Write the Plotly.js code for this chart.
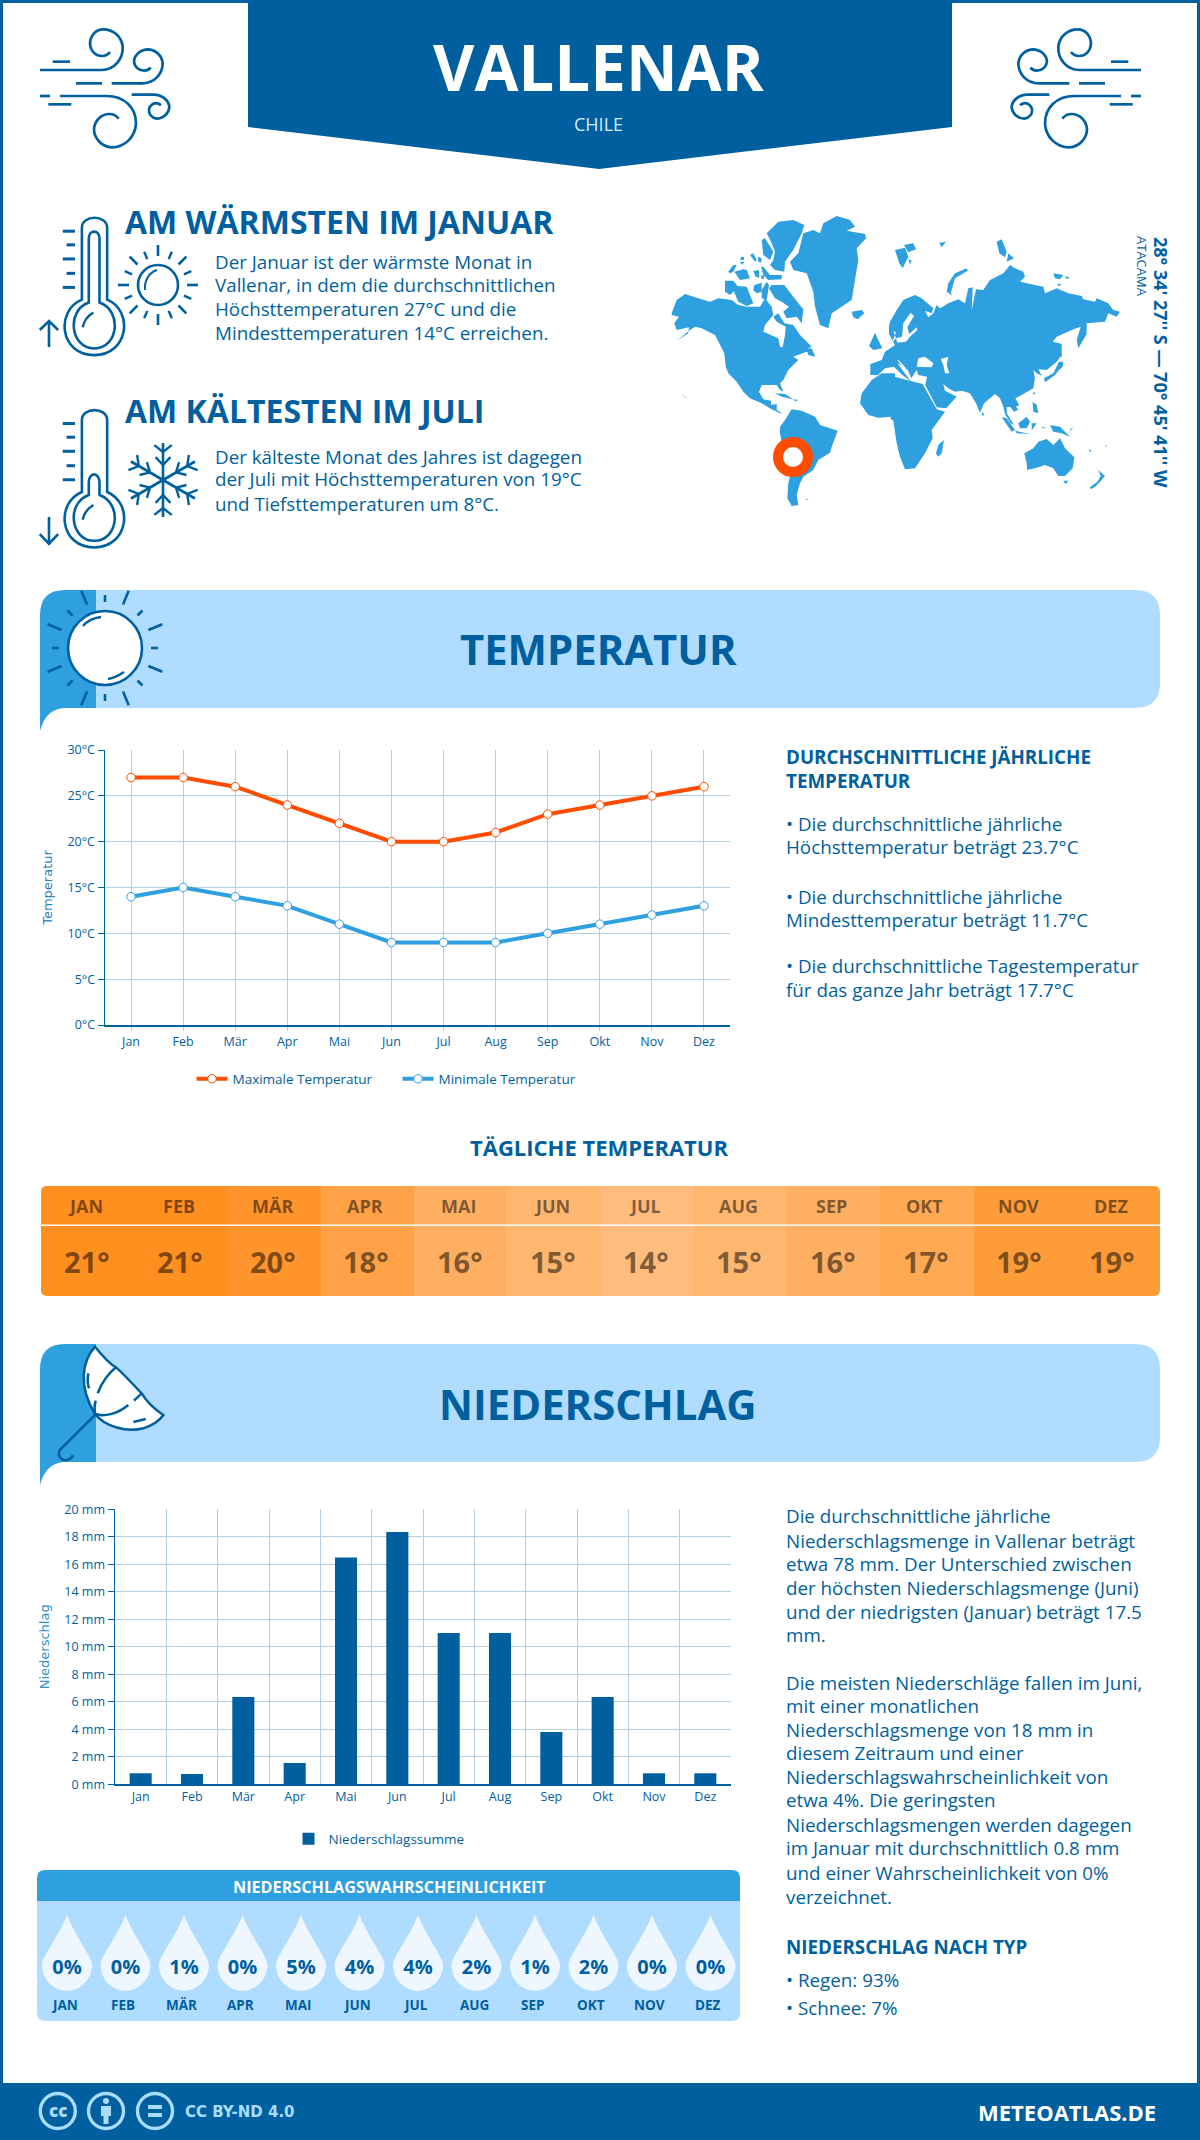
<!DOCTYPE html>
<html><head><meta charset="utf-8">
<script src="https://cdn.plot.ly/plotly-3.0.1.min.js"></script>
<style>html,body{margin:0;padding:0;background:#fff}#c{width:1200px;height:2140px}</style></head>
<body><div id="c"></div>
<script>
// ---------- data ----------
const months = ["Jan","Feb","Mär","Apr","Mai","Jun","Jul","Aug","Sep","Okt","Nov","Dez"];
const tempMax = [27,27,26,24,22,20,20,21,23,24,25,26];
const tempMin = [14,15,14,13,11,9,9,9,10,11,12,13];
const dailyTemp = [21,21,20,18,16,15,14,15,16,17,19,19];
const precip = [0.8,0.75,6.35,1.55,16.5,18.35,11,11,3.8,6.35,0.8,0.8];
const precipProb = [0,0,1,0,5,4,4,2,1,2,0,0];
const monthsUpper = months.map(m=>m.toUpperCase());

// ---------- palette ----------
const DARK="#005f9e", MID="#2e9fdf", LIGHT="#b0dcff", RED="#ff4d00", GRID="#b5cfe2", PALE="#a9dcff";
const FONT="Open Sans";
const W=1200,H=2140;
const fx=x=>x/W, fy=y=>1-y/H;

// ---------- drawing helpers (decoration only) ----------
const shapes=[], ann=[];
function mapPts(d,fn){ return d.replace(/(-?\d+(?:\.\d+)?)[ ,]+(-?\d+(?:\.\d+)?)/g,(m,a,b)=>{const r=fn(+a,+b);return r[0].toFixed(2)+" "+r[1].toFixed(2);}); }
function mapPaper(d){ return d.replace(/(-?\d+(?:\.\d+)?)[ ,]+(-?\d+(?:\.\d+)?)/g,(m,a,b)=>fx(+a).toFixed(6)+" "+fy(+b).toFixed(6)); }
const D=(d,o={})=>shapes.push({type:"path",xref:"paper",yref:"paper",layer:o.layer||"below",path:mapPaper(d),
    fillcolor:o.fill||"rgba(0,0,0,0)",line:{color:o.stroke||"rgba(0,0,0,0)",width:o.w===undefined?0:o.w}});
function C(cx,cy,r,o={}){
  shapes.push({type:"circle",xref:"paper",yref:"paper",layer:"below",x0:fx(cx-r),x1:fx(cx+r),y0:fy(cy-r),y1:fy(cy+r),
    fillcolor:o.fill||"rgba(0,0,0,0)",line:{color:o.stroke||"rgba(0,0,0,0)",width:o.w||0}});
}
function T(text,x,y,size,color,weight=400,anchor="left",extra={}){
  ann.push(Object.assign({text,x:fx(x),y:fy(y),xref:"paper",yref:"paper",xanchor:anchor,yanchor:"middle",showarrow:false,
    borderpad:0,font:{family:FONT,size,color,weight}},extra));
}
const z1x=1568/1200,z1y=1568/580;
const Z1=(d,o)=>D(mapPts(d,(x,y)=>[x/z1x,y/z1y]),o);

// page frame + header
D("M0 0 L1200 0 L1200 3 L0 3 Z",{fill:DARK});
D("M0 0 L3 0 L3 2140 L0 2140 Z",{fill:DARK});
D("M1197 0 L1200 0 L1200 2140 L1197 2140 Z",{fill:DARK});
D("M248 0 L952 0 L952 127 L599 169 L248 127 Z",{fill:DARK});
T("VALLENAR",599,66,63.7,"#ffffff",700,"center");
T("CHILE",598,124,18,"#d4ecff",400,"center");

// wind icons
const wind=["M30 150 L215 150 C255 150 280 115 278 80 C275 50 250 28 220 28 C195 28 180 50 180 72 C182 95 198 108 215 108 C225 108 235 103 240 96",
 "M245 190 L335 190 C375 190 398 160 398 130 C396 105 375 88 352 88 C328 90 312 108 312 125 C314 142 328 152 342 152 C350 152 358 148 362 143",
 "M68 125 L120 125","M138 190 L216 190","M30 228 L60 228",
 "M90 228 L230 228 C285 228 318 265 318 310 C316 350 285 382 245 382 C215 380 192 355 192 328 C194 300 215 282 238 282 C250 282 260 288 266 296",
 "M55 253 L124 253",
 "M305 224 L370 224 C400 224 418 245 418 262 C416 282 398 296 380 296 C365 294 355 282 357 268 C360 255 372 248 382 250 C387 251 391 254 393 256"];
wind.forEach(d=>D(mapPts(d,(x,y)=>[30+x/3,20+y/3]),{stroke:DARK,w:2.7}));
wind.forEach(d=>D(mapPts(d,(x,y)=>[1181-(30+x/3),20+y/3]),{stroke:DARK,w:2.7}));

// thermometers
function thermo(dy,warm){
  const t=(d)=>d.replace(/(-?\d+) (-?\d+)/g,(m,a,b)=>a+" "+(+b+dy));
  Z1(t("M107 810 L107 615 C107 580 140 580 140 615 L140 810 C175 840 168 960 123 960 C78 960 72 840 107 810 Z"),{stroke:DARK,w:2.6});
  if(warm) Z1(t("M116 818 L116 645 C116 620 130 620 130 645 L130 818 C160 840 155 942 123 942 C92 942 86 840 116 818 Z"),{stroke:DARK,w:2.6});
  else Z1(t("M116 818 L116 785 C116 755 130 755 130 785 L130 818 C160 840 155 942 123 942 C92 942 86 840 116 818 Z"),{stroke:DARK,w:2.6});
  Z1(t("M108 885 C110 865 114 855 122 845"),{stroke:DARK,w:2.4});
  [[82,625],[87,662],[82,700],[87,739],[82,777]].forEach(p=>Z1(t(`M${p[0]} ${p[1]} L98 ${p[1]}`),{stroke:DARK,w:3}));
}
thermo(0,true); thermo(520,false);
Z1("M64 938 L64 868 M52 892 L64 868 L76 892",{stroke:DARK,w:2.6});
Z1("M64 1398 L64 1470 M52 1444 L64 1470 L76 1444",{stroke:DARK,w:2.6});

// rays helper
function rays(cx,cy,list){ list.forEach(([a,r0,r1,w])=>{const c=Math.cos(a*Math.PI/180),s=Math.sin(a*Math.PI/180);
  D(`M${(cx+c*r0).toFixed(1)} ${(cy+s*r0).toFixed(1)} L${(cx+c*r1).toFixed(1)} ${(cy+s*r1).toFixed(1)}`,{stroke:DARK,w:w});});}
// small sun
C(158,285,20,{stroke:DARK,w:2.6});
D("M145 290 C144 280 150 272 157 270",{stroke:DARK,w:2});
let sr=[]; for(let i=0;i<16;i++){ sr.push(i%2===0?[i*22.5,29,40,2.6]:[i*22.5,28,36,2.4]); } rays(158,285,sr);
// snowflake
for(let i=0;i<6;i++){const a=i*60+90;
  const pt=(r,da)=>{const ra=(a+da)*Math.PI/180;return (163+Math.cos(ra)*r).toFixed(1)+" "+(480+Math.sin(ra)*r).toFixed(1);};
  D(`M${pt(0,0)} L${pt(37,0)}`,{stroke:DARK,w:2.6});
  D(`M${pt(24,18)} L${pt(15,0)} L${pt(24,-18)}`,{stroke:DARK,w:2.4});
  D(`M${pt(36,14)} L${pt(28,0)} L${pt(36,-14)}`,{stroke:DARK,w:2.4});
}

// left column text
T("AM WÄRMSTEN IM JANUAR",124,221,32,DARK,700);
["Der Januar ist der wärmste Monat in","Vallenar, in dem die durchschnittlichen","Höchsttemperaturen 27°C und die","Mindesttemperaturen 14°C erreichen."]
 .forEach((s,i)=>T(s,214,[262,285,308.5,333][i],18.8,DARK));
T("AM KÄLTESTEN IM JULI",124,411,32,DARK,700);
["Der kälteste Monat des Jahres ist dagegen","der Juli mit Höchsttemperaturen von 19°C","und Tiefsttemperaturen um 8°C."]
 .forEach((s,i)=>T(s,214,[456.5,479.5,503.5][i],18.8,DARK));

// world map (hand traced decoration)
const sys={w:(x,y)=>[665+x/3,210+y/3],e:(x,y)=>[890+x/3,210+y/3],z:(x,y)=>[650+x/2.851,200+y/3]};
function M(parts,c=MID){
  const pts=parts.map(p=>{const s=p[0],str=p.slice(2);
    return str.trim().split(/\s+/).map(q=>{const v=q.split(",").map(Number),r=sys[s](v[0],v[1]);return r[0].toFixed(1)+" "+r[1].toFixed(1);});}).flat();
  D("M"+pts.join(" L")+" Z",{fill:c});
}
// north + central america
M(["w 20,310 35,270 60,252 100,265 135,275 160,265 200,270 220,285 245,290 285,290 300,265 320,290 325,315 300,345 295,365 340,385 345,410 353,412 360,375 362,350 335,335 325,320 340,310 358,340 385,345 405,375 440,410 430,415 450,435 425,425 385,440 400,450 370,480 355,510 345,520 355,545 345,540 335,525 290,525 282,545 295,568 318,572 318,585 335,582 335,600 352,610 345,610 320,598 290,580 255,565 235,545 215,515 190,490 182,470 178,430 150,375 110,355 90,350 75,360 35,393 70,370 72,352 35,360 28,340 42,320 20,315"]);
// arctic islands, greenland, iceland
["w 305,70 340,35 385,30 418,45 410,70 385,120 360,155 358,185 330,180 315,165 325,150 330,125 320,100",
"w 290,90 300,85 325,125 315,150 295,135","w 228,140 238,142 236,150 226,150","w 225,155 238,155 232,165","w 190,185 205,165 215,165 205,185 195,190",
"w 208,185 235,178 245,180 255,205 225,210","w 255,135 265,130 275,150 270,155","w 278,140 290,145 288,158 280,155","w 265,183 282,180 283,203 272,200",
"w 288,170 295,170 315,195 350,195 350,208 310,210 295,195","w 288,195 298,197 296,207 290,207",
"w 180,212 205,212 220,230 195,255 180,245","w 205,240 220,228 245,230 265,280 245,288 220,275","w 268,225 290,218 290,245 275,250 265,240","w 290,240 305,215 312,225 305,270 290,265",
"w 312,235 320,225 358,225 385,260 415,298 410,340 395,320 365,325 355,305 372,290 350,275 330,265",
"w 425,418 440,415 450,440 430,435",
"w 375,155 400,130 415,70 445,60 465,70 475,40 515,18 555,30 570,50 545,62 600,72 603,85 575,115 580,150 570,210 560,270 500,310 490,355 465,345 450,290 445,245 425,190 385,180",
"w 560,305 590,300 598,310 578,328 565,322",
"w 612,408 630,368 640,390 652,415 625,420",
"w 330,550 360,552 385,568 350,560","w 385,568 400,570 390,574","w 48,553 68,565 60,562",
// south america
"w 345,650 360,630 380,598 410,602 450,620 465,645 518,662 500,710 495,728 460,750 445,780 415,800 405,820 395,855 400,885 380,888 367,865 370,820 375,798 355,720 345,670",
"w 420,868 432,866 425,870"].forEach(a=>M([a]));
// eurasia
M(["z 628,490","w 617,462 650,450 660,425 690,405 672,372 672,350",
   "e 0,335 20,300 40,270 75,255 95,265 130,295 125,310 105,302 115,322 130,310 140,285 150,295 175,280 205,268 225,280 235,235 248,232 245,300 258,238 280,240 300,210 340,190 360,165 375,175 400,185 405,200 390,215 435,225 460,230 465,250 500,235 535,250 575,258 580,268 615,275 620,265 655,280 670,300 690,305 680,320 655,310 645,335 590,340 590,372 565,415 560,390 572,350 545,360 500,380 488,395 508,400 515,435 500,455 470,480 445,478 455,497 440,490 430,480 435,505 430,535 395,555 376,565 388,585 378,590 385,600 372,605 360,590 350,592 350,610 372,645 362,640 345,612 340,590 330,565 315,552 282,580 270,608 258,580 240,550 215,542 195,545 175,535 160,522 165,542 180,550 200,560 168,595 140,592 106,525",
   "z 790,530 765,525 760,510 745,535 735,510 705,490 730,525 745,545 720,525 695,500 670,505 650,525 628,525"]);
// africa
M(["w 690,490 650,490 620,510 590,550 585,580 610,615 640,623 680,620","e 0,625 10,632 20,700 30,740 45,778 75,775 105,730 128,685 125,660 165,605 140,598 105,535 98,522 50,510 15,500"]);
// east islands
["e 162,690 155,730 145,740 138,730 145,705","e 278,605 283,615 275,617","e 335,622 350,625 375,660 365,665","e 375,662 420,672 380,670","e 385,640 410,620 420,635 410,655 390,655",
"e 425,640 440,640 430,655 425,660","e 428,575 440,585 445,610 430,605","e 432,545 428,555 436,550","e 480,645 510,650 540,680 515,670 490,665","e 455,650 470,655 458,655","e 540,658 550,652 540,663",
"e 595,718 605,723 600,726","e 645,708 652,704 648,710",
"e 403,730 430,715 445,695 470,687 490,705 510,685 525,715 553,742 548,775 525,798 505,798 490,775 465,765 440,773 412,780 410,760",
"e 520,812 535,812 527,823","e 625,780 645,798 630,815 615,830 603,838 600,832 622,815 632,798",
"e 507,455 520,455 518,470 507,480 495,495 465,517 462,505 490,490","e 508,400 515,402 515,440 508,440",
"e 490,190 520,195 510,208 495,205","e 525,198 540,203 530,207","e 503,220 515,225 505,228",
"e 320,95 335,88 350,125 345,142 328,130","e 355,130 372,145 350,155",
"e 230,175 233,182 195,205 182,250 188,258 170,245 175,220 195,190",
"e 15,120 45,113 55,140 38,175 28,160","e 42,105 70,100 78,118 55,127","e 55,148 65,152 60,163","e 148,98 168,95 155,112"].forEach(a=>M([a]));
// seas
["e 62,308 72,318 52,352 58,372 80,352 82,360 60,380 48,395 22,398 18,385 36,380 40,340",
 "e 10,362 18,368 5,398 18,385","e 85,445 105,440 130,460 125,472 80,470","e 152,447 175,440 170,465 178,490 165,490 160,465","e 20,448 28,452 48,475 40,475"]
 .forEach(a=>M([a],"#ffffff"));
C(793,457,15,{fill:"#ffffff",stroke:RED,w:10});
T("28° 34' 27'' S — 70° 45' 41'' W",1161,362,18,DARK,700,"center",{textangle:90});
T("ATACAMA",1142,266,13,DARK,400,"center",{textangle:90});

// section banners
function banner(dy){
  D(`M96 ${590+dy} L1135 ${590+dy} Q1160 ${590+dy} 1160 ${615+dy} L1160 ${683+dy} Q1160 ${708+dy} 1135 ${708+dy} L96 ${708+dy} Z`,{fill:LIGHT});
  D(`M96 ${590+dy} L65 ${590+dy} Q40 ${590+dy} 40 ${615+dy} L40 ${731+dy} Q46 ${708+dy} 66 ${708+dy} L96 ${708+dy} Z`,{fill:MID});
}
banner(0); banner(754);
T("TEMPERATUR",598,648,41.8,DARK,700,"center");
T("NIEDERSCHLAG",598,1403,41.8,DARK,700,"center");
// big sun
let br=[]; for(let i=0;i<8;i++){ br.push([i*45+22.5,47,62,2.6]); br.push([i*45,46,53,2.6]); } rays(105,648,br);
C(105,648,37,{fill:"#ffffff",stroke:DARK,w:2.6});
D("M83 626 C88 620 93 618 101 617",{stroke:DARK,w:2.4});
D("M108 679 C114 678 118 676 124 672",{stroke:DARK,w:2.4});
// umbrella
const um=d=>mapPts(d,(x,y)=>[30+x/3,1340+y/3]);
D(um("M195 20 C155 65 145 140 195 222 C225 260 290 278 340 265 C370 255 390 240 400 225 C370 205 350 185 335 160 C310 135 285 105 258 82 C235 70 215 45 195 20 Z"),{fill:"#ffffff",stroke:DARK,w:2.5});
["M258 82 C235 100 215 130 203 160","M197 182 C193 195 193 210 195 222","M195 222 C225 232 265 220 295 195","M312 182 L335 160","M175 100 C172 115 172 130 177 145","M310 246 L347 237","M195 225 L92 327 C78 345 95 365 112 360 C120 358 126 352 129 346"]
 .forEach(d=>D(um(d),{stroke:DARK,w:2.5}));

// temperature side text
T("DURCHSCHNITTLICHE JÄHRLICHE",785,757,18.8,DARK,700);
T("TEMPERATUR",785,781,18.8,DARK,700);
[["• Die durchschnittliche jährliche",824],["Höchsttemperatur beträgt 23.7°C",847.5],["• Die durchschnittliche jährliche",896.5],["Mindesttemperatur beträgt 11.7°C",919.5],["• Die durchschnittliche Tagestemperatur",965.5],["für das ganze Jahr beträgt 17.7°C",990.5]]
 .forEach(([s,y])=>T(s,785,y,18.8,DARK));
T("TÄGLICHE TEMPERATUR",599,1147,22,DARK,700,"center");

// daily temperature labels + strip divider (above heatmap)
months.forEach((m,i)=>{
  ann.push({text:monthsUpper[i],x:i,y:0.5-(1206-1186)/110,xref:"x3",yref:"y3",xshift:-2,showarrow:false,yanchor:"middle",font:{family:FONT,size:18,weight:700,color:"rgba(0,0,0,0.5)"}});
  ann.push({text:dailyTemp[i]+"°",x:i,y:0.5-(1261-1186)/110,xref:"x3",yref:"y3",xshift:-1,showarrow:false,yanchor:"middle",font:{family:FONT,size:29,weight:700,color:"rgba(0,0,0,0.5)"}});
});
D("M41 1225.3 L1160 1225.3",{stroke:"#ffffff",w:1.5,layer:"above"});
[[41,1186,1,1],[1160,1186,-1,1],[41,1296,1,-1],[1160,1296,-1,-1]].forEach(([x,y,a,b])=>
  D(`M${x} ${y} L${x+a*6} ${y} Q${x} ${y} ${x} ${y+b*6} Z`,{fill:"#ffffff",layer:"above"}));

// precipitation text
[["Die durchschnittliche jährliche",1516],["Niederschlagsmenge in Vallenar beträgt",1541],["etwa 78 mm. Der Unterschied zwischen",1564],["der höchsten Niederschlagsmenge (Juni)",1588],["und der niedrigsten (Januar) beträgt 17.5",1612],["mm.",1635],
 ["Die meisten Niederschläge fallen im Juni,",1683],["mit einer monatlichen",1706],["Niederschlagsmenge von 18 mm in",1730],["diesem Zeitraum und einer",1753],["Niederschlagswahrscheinlichkeit von",1777],["etwa 4%. Die geringsten",1800],["Niederschlagsmengen werden dagegen",1825],["im Januar mit durchschnittlich 0.8 mm",1848],["und einer Wahrscheinlichkeit von 0%",1873],["verzeichnet.",1897],
 ["• Regen: 93%",1980],["• Schnee: 7%",2008]].forEach(([s,y])=>T(s,785,y-0.5,18.8,DARK));
T("NIEDERSCHLAG NACH TYP",785,1947,18.8,DARK,700);

// probability panel
D("M45 1870 L732 1870 Q740 1870 740 1878 L740 1901 L37 1901 L37 1878 Q37 1870 45 1870 Z",{fill:MID});
D("M37 1901 L740 1901 L740 2013 Q740 2021 732 2021 L45 2021 Q37 2021 37 2013 Z",{fill:LIGHT});
T("NIEDERSCHLAGSWAHRSCHEINLICHKEIT",389,1887,16.2,"#ffffff",700,"center");
months.forEach((m,i)=>{
  shapes.push({type:"path",xref:"x4",yref:"y4",xsizemode:"pixel",ysizemode:"pixel",xanchor:i,yanchor:1990.7,layer:"below",
    path:"M0 76 C-6 58 -25 34 -25 26 C-25 10 -12 0 0 0 C12 0 25 10 25 26 C25 34 6 58 0 76 Z",fillcolor:"#eef7ff",line:{width:0}});
  ann.push({text:monthsUpper[i],x:i,y:2004.7,xref:"x4",yref:"y4",xshift:-2.5,showarrow:false,yanchor:"middle",font:{family:FONT,size:13.5,weight:700,color:DARK}});
});

// footer
D("M0 2083 L1200 2083 L1200 2140 L0 2140 Z",{fill:DARK});
[57.8,106,155].forEach(x=>C(x,2111,17.5,{stroke:PALE,w:3.4}));
T("cc",57.8,2110,17,PALE,800,"center");
C(106,2101,3,{fill:PALE});
D("M101 2106 L111 2106 L111 2116 L108.5 2116 L108.5 2124 L103.5 2124 L103.5 2116 L101 2116 Z",{fill:PALE});
D("M148 2105 L162 2105 L162 2109 L148 2109 Z",{fill:PALE});
D("M148 2113 L162 2113 L162 2117 L148 2117 Z",{fill:PALE});
ann.push({text:"CC BY-ND 4.0",x:fx(183),y:fy(2112),xref:"paper",yref:"paper",xanchor:"left",yanchor:"middle",showarrow:false,font:{family:"DejaVu Sans",size:15,weight:700,color:PALE}});
T("METEOATLAS.DE",1157,2112,22,"#ffffff",700,"right");

// ---------- traces ----------
const traces=[
 {type:"scatter",mode:"lines+markers",name:"Maximale Temperatur",x:months,y:tempMax,xaxis:"x",yaxis:"y",legend:"legend",
  line:{color:RED,width:4},marker:{symbol:"circle",size:8.5,color:"#ffffff",line:{color:RED,width:1}}},
 {type:"scatter",mode:"lines+markers",name:"Minimale Temperatur",x:months,y:tempMin,xaxis:"x",yaxis:"y",legend:"legend",
  line:{color:MID,width:4},marker:{symbol:"circle",size:8.5,color:"#ffffff",line:{color:MID,width:1}}},
 {type:"bar",name:"Niederschlagssumme",x:months,y:precip,xaxis:"x2",yaxis:"y2",legend:"legend2",width:0.43,marker:{color:DARK}},
 {type:"heatmap",x:monthsUpper,y:[0],z:[dailyTemp],xaxis:"x3",yaxis:"y3",zmin:14,zmax:21,showscale:false,showlegend:false,hoverinfo:"skip",
  colorscale:[[0,"#ffbc7c"],[1,"#ff8f1f"]]},
 {type:"scatter",mode:"text",x:monthsUpper,y:months.map(()=>1968.5),text:precipProb.map(v=>v+"%"),xaxis:"x4",yaxis:"y4",showlegend:false,hoverinfo:"skip",
  textposition:"middle center",textfont:{family:FONT,size:20,weight:700,color:DARK}}
];

const tick={family:FONT,size:12.5,color:DARK};
const cx=(o)=>Object.assign({type:"category",categoryorder:"array",fixedrange:true,showline:true,linecolor:DARK,linewidth:1.5,
  showgrid:true,gridcolor:GRID,gridwidth:1,ticks:"outside",ticklen:4,tickcolor:GRID,tickfont:tick},o);
const cy=(o)=>Object.assign({fixedrange:true,showline:true,linecolor:DARK,linewidth:1.5,showgrid:true,gridcolor:GRID,gridwidth:1,
  ticks:"outside",ticklen:6,tickcolor:DARK,tickfont:tick,zeroline:false},o);

const layout={
 width:W,height:H,margin:{l:0,r:0,t:0,b:0},paper_bgcolor:"#ffffff",plot_bgcolor:"rgba(0,0,0,0)",
 font:{family:FONT,color:DARK},shapes,annotations:ann,hovermode:false,
 xaxis:cx({domain:[fx(105),fx(730)],anchor:"y",categoryarray:months,range:[-0.5,11.5]}),
 yaxis:cy({domain:[fy(1025),fy(750)],anchor:"x",range:[0,30],tick0:0,dtick:5,ticksuffix:"°C",
   title:{text:"Temperatur",standoff:12,font:{family:"DejaVu Sans",size:13,color:"#1f7fbf"}}}),
 xaxis2:cx({domain:[fx(115),fx(731)],anchor:"y2",categoryarray:months,range:[-0.5,11.5],tickson:"boundaries",tickcolor:"rgba(0,0,0,0)",ticklen:7}),
 yaxis2:cy({domain:[fy(1784.3),fy(1509.3)],anchor:"x2",range:[0,20],tick0:0,dtick:2,ticksuffix:" mm",
   title:{text:"Niederschlag",standoff:12,font:{family:"DejaVu Sans",size:13,color:"#2e8fce"}}}),
 xaxis3:{domain:[fx(41),fx(1160)],anchor:"y3",type:"category",categoryorder:"array",categoryarray:monthsUpper,range:[-0.5,11.5],visible:false,fixedrange:true},
 yaxis3:{domain:[fy(1296),fy(1186)],anchor:"x3",range:[-0.5,0.5],visible:false,fixedrange:true},
 xaxis4:{domain:[fx(37.75),fx(739.75)],anchor:"y4",type:"category",categoryorder:"array",categoryarray:monthsUpper,range:[-0.5,11.5],visible:false,fixedrange:true},
 yaxis4:{domain:[fy(2021),fy(1901)],anchor:"x4",range:[2021,1901],visible:false,fixedrange:true},
 legend:{orientation:"h",x:fx(397.5),xanchor:"center",y:fy(1079),yanchor:"middle",bgcolor:"rgba(0,0,0,0)",font:{family:FONT,size:13.5,color:DARK},itemwidth:31,entrywidth:160,entrywidthmode:"pixels"},
 legend2:{orientation:"h",x:fx(379),xanchor:"center",y:fy(1839),yanchor:"middle",bgcolor:"rgba(0,0,0,0)",font:{family:FONT,size:13.5,color:DARK}},
 showlegend:true
};
Plotly.newPlot("c",traces,layout,{displayModeBar:false,staticPlot:true});
</script></body></html>
